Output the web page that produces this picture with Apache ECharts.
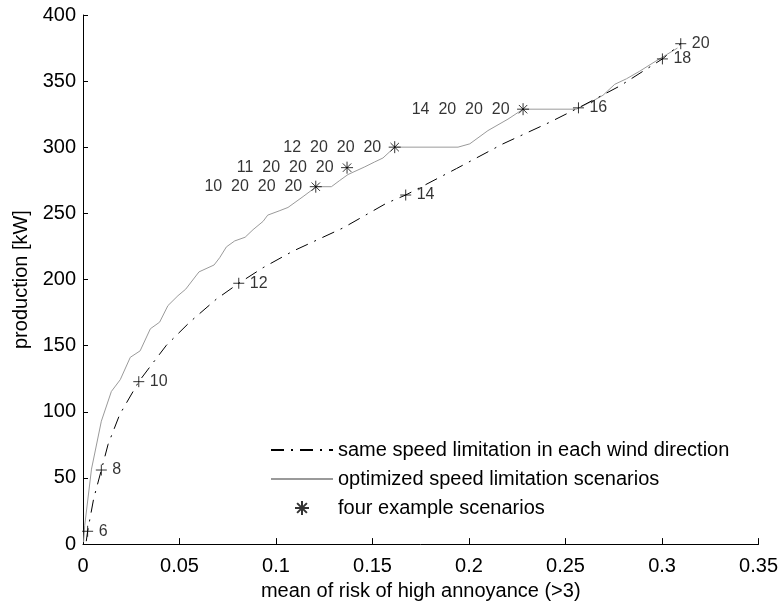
<!DOCTYPE html>
<html>
<head>
<meta charset="utf-8">
<script src="https://cdn.jsdelivr.net/npm/echarts@6/dist/echarts.min.js"></script>
<style>html,body{margin:0;padding:0;background:#fff}#c{width:781px;height:606px}</style>
</head>
<body>
<div id="c"></div>
<script>
// same speed limitation in each wind direction (dash-dot curve)
const sameX = [0.0017, 0.0024, 0.0055, 0.0095, 0.0130, 0.0190, 0.0289, 0.0354, 0.0432, 0.0553, 0.0691, 0.0807, 0.0933, 0.1088, 0.1347, 0.1572, 0.1672, 0.1935, 0.2176, 0.2418, 0.2567, 0.2781, 0.3002, 0.3097];
const sameY = [2.2, 9.7, 34.2, 56, 75.4, 97.9, 122.8, 135.4, 150.3, 167.8, 185.2, 197.2, 209, 221.5, 239, 257.7, 263.9, 283.9, 302.6, 318.9, 329.8, 346.3, 366.8, 378.3];
// speed-labelled points on that curve
const speedLabels = ['6', '8', '10', '12', '14', '16', '18', '20'];
const speedX = [0.0024, 0.0095, 0.0289, 0.0807, 0.1672, 0.2567, 0.3002, 0.3097];
const speedY = [9.7, 56, 122.8, 197.2, 263.9, 329.8, 366.8, 378.3];
// optimized speed limitation scenarios (gray curve)
const optX = [0.0003, 0.0009, 0.0044, 0.0095, 0.0147, 0.0193, 0.0245, 0.0296, 0.0349, 0.0397, 0.0440, 0.0492, 0.0532, 0.0601, 0.0679, 0.0708, 0.0743, 0.0786, 0.0840, 0.0881, 0.0933, 0.0957, 0.1016, 0.1062, 0.1140, 0.1209, 0.1287, 0.1330, 0.1373, 0.1460, 0.1511, 0.1554, 0.1615, 0.1943, 0.2004, 0.2098, 0.2202, 0.2280, 0.2556, 0.2642, 0.2694, 0.2755, 0.2816, 0.2884, 0.2953, 0.3023, 0.3080];
const optY = [1.5, 14.2, 56.7, 92.9, 115.4, 124.3, 141.2, 146.1, 162.8, 167.8, 180.3, 187.8, 192.7, 205.8, 211, 216.5, 224.7, 229.2, 232, 237.7, 244, 248.7, 251.9, 254.5, 262.7, 270.2, 270.2, 274.9, 279.4, 285.2, 288.9, 291.9, 300.1, 300.1, 302.6, 312.6, 321.3, 328.8, 328.8, 335.1, 339.3, 347.6, 351.8, 357.5, 363.8, 370, 375];
// four example scenarios
const exLabels = ['10  20  20  20', '11  20  20  20', '12  20  20  20', '14  20  20  20'];
const exX = [0.1206, 0.1368, 0.1615, 0.2280];
const exY = [270.2, 284.6, 300.1, 328.8];
// axis ticks
const xTicks = [0, 0.05, 0.1, 0.15, 0.2, 0.25, 0.3, 0.35];
const yTicks = [0, 50, 100, 150, 200, 250, 300, 350, 400];

const names = ['same speed limitation in each wind direction', 'optimized speed limitation scenarios', 'four example scenarios'];
const FONT = 'Liberation Sans, Arial, Helvetica, sans-serif';
const zip = (a, b) => a.map((v, i) => [v, b[i]]);
const PLUS = 'path://M5,0L5,10M0,5L10,5';
const STAR = 'path://M5,0L5,10M0,5L10,5M1.5,1.5L8.5,8.5M8.5,1.5L1.5,8.5';

const chart = echarts.init(document.getElementById('c'), null, {renderer: 'canvas'});
chart.setOption({
  animation: false,
  backgroundColor: '#fff',
  textStyle: {fontFamily: FONT, color: '#000'},
  grid: {left: 83, right: 22, top: 15, bottom: 57, containLabel: false},
  xAxis: {
    type: 'value', min: xTicks[0], max: xTicks[xTicks.length - 1], interval: 0.05,
    name: 'mean of risk of high annoyance (>3)', nameLocation: 'middle', nameGap: 36,
    nameTextStyle: {fontSize: 20, color: '#000', fontFamily: FONT},
    axisLine: {show: true, onZero: false, lineStyle: {color: '#000', width: 1}},
    axisTick: {show: true, inside: true, length: 6, lineStyle: {color: '#000'}},
    axisLabel: {fontSize: 20, color: '#000', margin: 12, fontFamily: FONT},
    splitLine: {show: false}
  },
  yAxis: {
    type: 'value', min: yTicks[0], max: yTicks[yTicks.length - 1], interval: 50,
    name: 'production [kW]', nameLocation: 'middle', nameGap: 45, nameRotate: 90,
    nameTextStyle: {fontSize: 20, color: '#000', fontFamily: FONT},
    axisLine: {show: true, onZero: false, lineStyle: {color: '#000', width: 1}},
    axisTick: {show: true, inside: true, length: 5, lineStyle: {color: '#000'}},
    axisLabel: {fontSize: 20, color: '#000', margin: 7, fontFamily: FONT},
    splitLine: {show: false}
  },
  legend: {
    data: [
      {name: names[0], itemStyle: {opacity: 0}},
      {name: names[1], itemStyle: {opacity: 0}},
      {name: names[2]}
    ],
    orient: 'vertical', left: 265, top: 435,
    itemWidth: 62, itemHeight: 14, itemGap: 9, selectedMode: false,
    textStyle: {fontSize: 20, color: '#000', fontFamily: FONT}
  },
  series: [
    {
      name: names[1], type: 'line', data: zip(optX, optY), symbol: 'none',
      lineStyle: {color: '#9a9a9a', width: 1}, itemStyle: {color: '#9a9a9a'}, z: 2
    },
    {
      name: names[0], type: 'line', data: zip(sameX, sameY), symbol: 'none',
      lineStyle: {color: '#000', width: 1, type: [13, 7, 2, 7]}, itemStyle: {color: '#000'}, z: 3
    },
    {
      name: 'speeds', type: 'scatter', symbol: PLUS, symbolSize: 11,
      data: speedX.map((x, i) => ({value: [x, speedY[i]], name: speedLabels[i]})),
      itemStyle: {color: 'none', borderColor: '#000', borderWidth: 1},
      label: {show: true, position: 'right', distance: 3, formatter: p => p.name,
        fontSize: 16, color: '#000', fontFamily: FONT},
      z: 4
    },
    {
      name: names[2], type: 'scatter', symbol: STAR, symbolSize: 12,
      data: exX.map((x, i) => ({value: [x, exY[i]], name: exLabels[i]})),
      itemStyle: {color: 'none', borderColor: '#000', borderWidth: 1},
      label: {show: true, position: 'left', distance: 5, formatter: p => p.name,
        fontSize: 16, color: '#000', fontFamily: FONT},
      z: 4
    }
  ]
});
</script>
</body>
</html>
